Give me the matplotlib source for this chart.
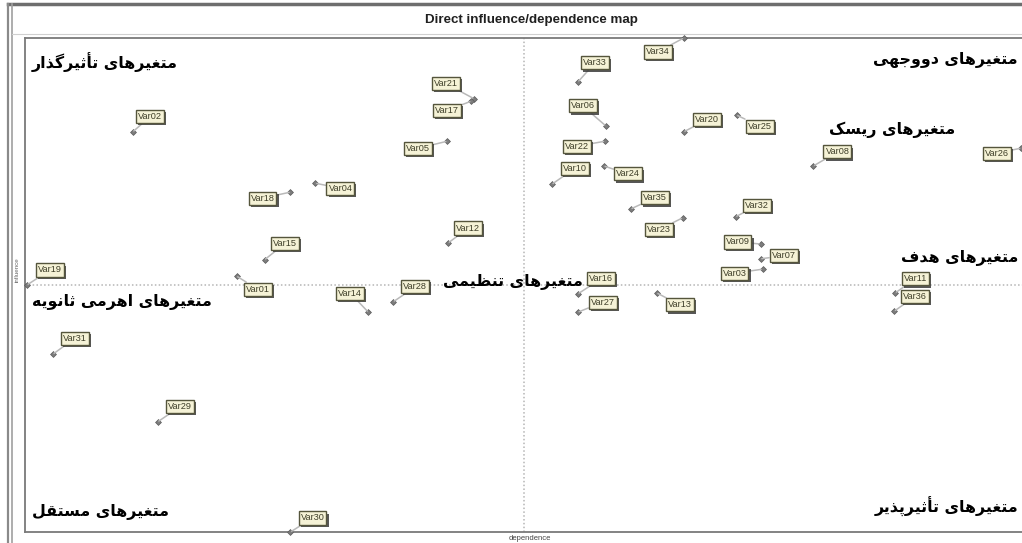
import matplotlib
matplotlib.use("Agg")
import matplotlib.pyplot as plt
from matplotlib import patheffects
from matplotlib.lines import Line2D

# ---------------- data (influence / dependence, 0-100 scale) ----------------
variables = ["Var19", "Var02", "Var21", "Var17", "Var05", "Var18", "Var04", "Var15",
             "Var12", "Var01", "Var14", "Var28", "Var31", "Var29", "Var30", "Var34",
             "Var33", "Var06", "Var20", "Var25", "Var08", "Var26", "Var22", "Var10",
             "Var24", "Var35", "Var23", "Var32", "Var09", "Var07", "Var03", "Var16",
             "Var27", "Var13", "Var11", "Var36"]
dependence = [0.2, 10.8, 45.0, 44.7, 42.3, 26.6, 29.1, 24.0,
              42.4, 21.2, 34.4, 36.9, 2.8, 13.3, 26.6, 66.0,
              55.4, 58.2, 66.0, 71.3, 79.0, 99.8, 58.1, 52.8,
              58.0, 60.7, 65.9, 71.2, 73.7, 73.7, 73.9, 55.4,
              55.4, 63.3, 87.2, 87.1]
influence = [50.0, 81.0, 87.7, 87.2, 79.1, 68.8, 70.6, 55.1,
             58.5, 51.8, 44.5, 46.6, 36.0, 22.3, 0.0, 100.0,
             91.1, 82.2, 81.0, 84.4, 74.1, 77.7, 79.1, 70.4,
             74.1, 65.4, 63.6, 63.8, 58.3, 55.3, 53.2, 48.2,
             44.5, 48.4, 48.4, 44.7]

quadrant_labels = ["متغیرهای تأثیرگذار", "متغیرهای دووجهی", "متغیرهای ریسک",
                   "متغیرهای هدف", "متغیرهای تنظیمی", "متغیرهای اهرمی ثانویه",
                   "متغیرهای مستقل", "متغیرهای تأثیرپذیر"]
title_text = "Direct influence/dependence map"
x_label = "dependence"
y_label = "influence"

# ---------------- minimal Persian shaping (presentation forms) ----------------
FORMS = {
    '\u0627': ('\uFE8D', '\uFE8E', None, None),
    '\u0623': ('\uFE83', '\uFE84', None, None),
    '\u062A': ('\uFE95', '\uFE96', '\uFE97', '\uFE98'),
    '\u062B': ('\uFE99', '\uFE9A', '\uFE9B', '\uFE9C'),
    '\u062C': ('\uFE9D', '\uFE9E', '\uFE9F', '\uFEA0'),
    '\u062F': ('\uFEA9', '\uFEAA', None, None),
    '\u0630': ('\uFEAB', '\uFEAC', None, None),
    '\u0631': ('\uFEAD', '\uFEAE', None, None),
    '\u0632': ('\uFEAF', '\uFEB0', None, None),
    '\u0633': ('\uFEB1', '\uFEB2', '\uFEB3', '\uFEB4'),
    '\u0638': ('\uFEC5', '\uFEC6', '\uFEC7', '\uFEC8'),
    '\u063A': ('\uFECD', '\uFECE', '\uFECF', '\uFED0'),
    '\u0641': ('\uFED1', '\uFED2', '\uFED3', '\uFED4'),
    '\u0642': ('\uFED5', '\uFED6', '\uFED7', '\uFED8'),
    '\u0644': ('\uFEDD', '\uFEDE', '\uFEDF', '\uFEE0'),
    '\u0645': ('\uFEE1', '\uFEE2', '\uFEE3', '\uFEE4'),
    '\u0646': ('\uFEE5', '\uFEE6', '\uFEE7', '\uFEE8'),
    '\u0647': ('\uFEE9', '\uFEEA', '\uFEEB', '\uFEEC'),
    '\u0648': ('\uFEED', '\uFEEE', None, None),
    '\u067E': ('\uFB56', '\uFB57', '\uFB58', '\uFB59'),
    '\u06A9': ('\uFB8E', '\uFB8F', '\uFB90', '\uFB91'),
    '\u06AF': ('\uFB92', '\uFB93', '\uFB94', '\uFB95'),
    '\u06CC': ('\uFBFC', '\uFBFD', '\uFBFE', '\uFBFF'),
}


def shape_fa(s):
    s = s.replace('\u064A', '\u06CC').replace('\u0643', '\u06A9')
    out = []
    for i, c in enumerate(s):
        if c not in FORMS:
            out.append(c)
            continue
        f = FORMS[c]
        prev = s[i - 1] if i > 0 else None
        nxt = s[i + 1] if i + 1 < len(s) else None
        jp = prev in FORMS and FORMS[prev][2] is not None
        jn = f[2] is not None and nxt in FORMS
        if jp and jn:
            out.append(f[3])
        elif jp:
            out.append(f[1])
        elif jn:
            out.append(f[2])
        else:
            out.append(f[0])
    return ''.join(reversed(out))


# ---------------- figure ----------------
W, H = 1022, 543
fig = plt.figure(figsize=(W / 100, H / 100), dpi=100)
fig.patch.set_facecolor("white")


def fx(px):
    return px / W


def fy(py):
    return 1 - py / H


# window decorations
fig.add_artist(Line2D([fx(8), fx(1022)], [fy(4), fy(4)], color="#6e6e6e", lw=2.5))
fig.add_artist(Line2D([fx(8), fx(8)], [fy(4), fy(543)], color="#8a8a8a", lw=1.6))
fig.add_artist(Line2D([fx(12), fx(12)], [fy(4), fy(543)], color="#a0a0a0", lw=1.2))
fig.add_artist(Line2D([fx(12), fx(1022)], [fy(34), fy(34)], color="#d0d0d0", lw=0.8))

fig.text(fx(531), fy(20), title_text, ha="center", va="center",
         fontsize=9.6, fontweight="bold", family="Liberation Sans", color="#202020")

# main axes
L, R, T, B = 25, 1023, 38, 532
ax = fig.add_axes([fx(L), 1 - B / H, (R - L) / W, (B - T) / H])
ax.set_xlim(0, 100)
ax.set_ylim(0, 100)
ax.set_xticks([])
ax.set_yticks([])
for sp in ax.spines.values():
    sp.set_color("#7a7a7a")
    sp.set_linewidth(1.3)

ax.axvline(50, color="#b5b5b5", lw=1.1, ls=(0, (1, 1.5)), zorder=1)
ax.axhline(50, color="#b5b5b5", lw=1.1, ls=(0, (1, 1.5)), zorder=1)

fig.text(fx(17), fy(270), y_label, rotation=90, ha="center", va="center",
         fontsize=4.5, color="#666666", family="Liberation Sans")
fig.text(fx(530), fy(538), x_label, ha="center", va="center",
         fontsize=5.5, color="#444444", family="Liberation Sans")

ax.scatter(dependence, influence, marker="D", s=9, color="#7d7d7d",
           edgecolor="#5a5a5a", linewidths=0.5, zorder=4, clip_on=False)

# label offsets (pixels, +y up)
offsets = {
    "Var19": (23, 15), "Var02": (17, 15), "Var21": (-28, 15), "Var17": (-24, -9),
    "Var05": (-29, -7), "Var18": (-28, -6), "Var04": (25, -5), "Var15": (20, 16),
    "Var12": (20, 15), "Var01": (21, -13), "Var14": (-18, 19), "Var28": (22, 15),
    "Var31": (22, 16), "Var29": (22, 15), "Var30": (22, 14), "Var34": (-26, -14),
    "Var33": (17, 19), "Var06": (-23, 20), "Var20": (23, 12), "Var25": (23, -11),
    "Var08": (24, 14), "Var26": (-24, -5), "Var22": (-28, -5), "Var10": (23, 16),
    "Var24": (24, -8), "Var35": (24, 11), "Var23": (-24, -12), "Var32": (21, 11),
    "Var09": (-23, 2), "Var07": (23, 3), "Var03": (-28, -4), "Var16": (23, 15),
    "Var27": (25, 10), "Var13": (23, -12), "Var11": (20, 14), "Var36": (21, 15),
}

shadow = [patheffects.withSimplePatchShadow(offset=(1.5, -1.5), shadow_rgbFace="#3a3a3a", alpha=0.85)]
for name, xv, yv in zip(variables, dependence, influence):
    dx, dy = offsets[name]
    ann = ax.annotate(name, xy=(xv, yv), xytext=(dx * 0.72, dy * 0.72),
                      textcoords="offset points", ha="center", va="center",
                      fontsize=6.6, family="Liberation Sans", color="#3d3d28",
                      bbox=dict(boxstyle="square,pad=0.22", fc="#f5f2d6", ec="#55553c", lw=1.0),
                      arrowprops=dict(arrowstyle="-", color="#b9b9b9", lw=1.1,
                                      shrinkA=0, shrinkB=1),
                      zorder=5, annotation_clip=False)
    ann.get_bbox_patch().set_path_effects(shadow)

# quadrant captions (pixel anchor positions)
q_pos = [(32, 62, "left"), (1018, 60, "right"), (955, 130, "right"), (1018, 258, "right"),
         (583, 282, "right"), (32, 302, "left"), (32, 512, "left"), (1018, 507, "right")]
for txt, (px, py, ha) in zip(quadrant_labels, q_pos):
    fig.text(fx(px), fy(py), shape_fa(txt), ha=ha, va="center", fontsize=11.4,
             fontweight="bold", family=["DejaVu Sans"], color="black", zorder=10)

fig.savefig("out.png", dpi=100, facecolor="white")
